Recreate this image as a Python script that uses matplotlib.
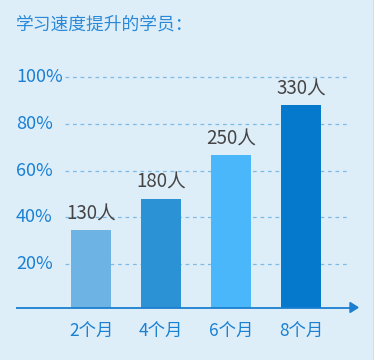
import matplotlib
matplotlib.use("Agg")
import matplotlib.pyplot as plt
from matplotlib.patches import Polygon
from matplotlib.lines import Line2D

plt.rcParams['font.family'] = ['Noto Sans CJK SC', 'DejaVu Sans']

# Data
months = ["2个月", "4个月", "6个月", "8个月"]
students = [130, 180, 250, 330]
full_scale = 375  # number of students shown as 100%
pct_ticks = [20, 40, 60, 80, 100]

bar_colors = ["#6db4e4", "#2b92d6", "#4bb7fb", "#0579cb"]
bg = "#deeef9"
blue_text = "#1a80d2"

fig = plt.figure(figsize=(3.74, 3.60), dpi=100, facecolor=bg)

# axes in pixel-calibrated figure fractions
W, H = 374.0, 360.0
x_left_px, x_right_px = 16.0, 358.0
y_bot_px, y_top_px = 307.5, 60.0
ax = fig.add_axes([x_left_px / W, 1 - y_bot_px / H,
                   (x_right_px - x_left_px) / W, (y_bot_px - y_top_px) / H])
ax.set_facecolor(bg)

x = list(range(len(months)))
px_per_unit = 70.0
xmin = -(91 - x_left_px) / px_per_unit
xmax = xmin + (x_right_px - x_left_px) / px_per_unit
ax.set_xlim(xmin, xmax)

# y scale: counts; zero sits just below the axis line
px_per_count = 46.7 / 75.0
y0 = (310.7 - y_bot_px) / px_per_count
y1 = y0 + (y_bot_px - y_top_px) / px_per_count
ax.set_ylim(y0, y1)

ax.bar(x, students, width=0.57, color=bar_colors, zorder=3)

# dashed grid
grid_vals = [p / 100 * full_scale for p in pct_ticks]
gx0 = xmin + (65 - x_left_px) / px_per_unit
gx1 = xmin + (350 - x_left_px) / px_per_unit
for g in grid_vals:
    ax.plot([gx0, gx1], [g, g], ls=(0, (3, 3)), lw=0.9, color="#7dbbe6", zorder=1)

# value labels
for xi, v in zip(x, students):
    ax.annotate(f"{v}人", (xi, v), xytext=(0, 4), textcoords="offset points",
                ha="center", va="bottom", fontsize=13.5, color="#444444", zorder=4)

# y tick labels, left aligned at the left edge
for p, g in zip(pct_ticks, grid_vals):
    ax.text(xmin, g, f"{p}%", ha="left", va="center", fontsize=13,
            color=blue_text)

# x tick labels
ax.set_xticks(x)
ax.set_xticklabels(months, fontsize=12.5, color=blue_text)
ax.tick_params(axis="x", length=0, pad=11)
ax.set_yticks([])

for s in ["top", "right", "left", "bottom"]:
    ax.spines[s].set_visible(False)

# baseline axis with arrow
ax.plot([xmin, xmax - 0.08], [y0, y0], color="#1a7fd0", lw=1.3, zorder=5,
        clip_on=False, solid_capstyle="butt")
ah_len = 8 / px_per_unit
ah_half = 5 / px_per_count
arrow = Polygon([[xmax - ah_len, y0 - ah_half], [xmax, y0], [xmax - ah_len, y0 + ah_half]],
                closed=True, color="#1a7fd0", clip_on=False, zorder=5)
ax.add_patch(arrow)

# title
fig.text(16 / W, 1 - 25 / H, "学习速度提升的学员：", ha="left", va="center",
         fontsize=12.8, color="#2a8ad8")

# thin right border
fig.add_artist(Line2D([373.5 / W, 373.5 / W], [0, 1], color="#c4e0f4", lw=1.2))

fig.savefig("out.png", dpi=100, facecolor=bg)
